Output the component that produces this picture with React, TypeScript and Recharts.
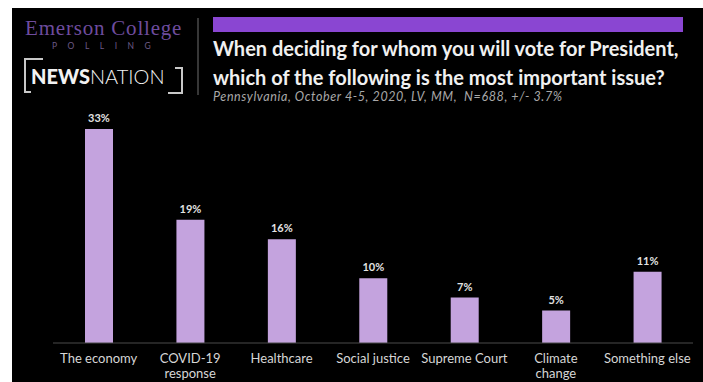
import React from "react";
import { BarChart, Bar, XAxis, YAxis, LabelList } from "recharts";

const categories = [
  "The economy",
  "COVID-19\nresponse",
  "Healthcare",
  "Social justice",
  "Supreme Court",
  "Climate\nchange",
  "Something else",
];
const shares = [33, 19, 16, 10, 7, 5, 11];

const titleLines = [
  "When deciding for whom you will vote for President,",
  "which of the following is the most important issue?",
];
const subtitle = "Pennsylvania, October 4-5, 2020, LV, MM,  N=688, +/- 3.7%";

const data = categories.map((name, i) => ({ name, value: shares[i] }));

const FONT = "Lato, 'Open Sans', sans-serif";

function CategoryTick(props: any) {
  const { x, y, payload } = props;
  const lines = String(payload.value).split("\n");
  return (
    <text
      x={x}
      y={y}
      textAnchor="middle"
      fill="#d6d6d6"
      fontSize={13}
      fontFamily={FONT}
    >
      {lines.map((line, i) => (
        <tspan key={i} x={x} dy={i === 0 ? 12 : 15}>
          {line}
        </tspan>
      ))}
    </text>
  );
}

function Header() {
  return (
    <svg
      width={703}
      height={382}
      style={{ position: "absolute", left: 0, top: 0 }}
    >
      <text
        x={25}
        y={35}
        fill="#6e4c9e"
        fontFamily="'Liberation Serif', 'DejaVu Serif', serif"
        fontSize={21}
        letterSpacing={0.8}
      >
        Emerson College
      </text>
      <text
        x={52}
        y={49}
        fill="#6d5a86"
        fontFamily={FONT}
        fontSize={8.5}
        letterSpacing={10.5}
      >
        POLLING
      </text>
      {/* NewsNation brackets */}
      <path d="M43 59 H25 V92 H31" stroke="#c8c8c8" strokeWidth={2} fill="none" />
      <path d="M175 68 H182 V93 H168" stroke="#c8c8c8" strokeWidth={2} fill="none" />
      <text x={31} y={84} fill="#f2f2f2" fontFamily={FONT} fontSize={20}>
        <tspan fontWeight={900}>NEWS</tspan>
        <tspan fontWeight={300}>NATION</tspan>
      </text>
      <line x1={198} y1={18} x2={198} y2={95} stroke="#4a4a4a" strokeWidth={1.5} />
      <rect x={213} y={17} width={470} height={15} fill="#8a46d2" />
      {titleLines.map((t, i) => (
        <text
          key={i}
          x={213}
          y={56 + i * 29}
          fill="#f0f0f0"
          fontFamily={FONT}
          fontWeight={700}
          fontSize={20}
        >
          {t}
        </text>
      ))}
      <text
        x={213}
        y={101}
        fill="#a8a8a8"
        fontFamily={FONT}
        fontStyle="italic"
        fontSize={12.5}
        letterSpacing={0.6}
        style={{ whiteSpace: "pre" }}
      >
        {subtitle}
      </text>
    </svg>
  );
}

export default function App() {
  return (
    <div
      style={{
        position: "absolute",
        left: 0,
        top: 0,
        width: 703,
        height: 382,
        background: "#ffffff",
        overflow: "hidden",
      }}
    >
      <div
        style={{
          position: "absolute",
          left: 12,
          top: 8,
          width: 691,
          height: 374,
          background: "#000000",
        }}
      />
      <Header />
      <div style={{ position: "absolute", left: 0, top: 100 }}>
        <BarChart
          width={703}
          height={282}
          data={data}
          margin={{ top: 29, right: 10, bottom: 0, left: 53 }}
        >
          <XAxis
            dataKey="name"
            height={39}
            axisLine={{ stroke: "#4a4a4a", strokeWidth: 1 }}
            tickLine={false}
            interval={0}
            tick={<CategoryTick />}
          />
          <YAxis hide domain={[0, 33]} />
          <Bar
            dataKey="value"
            fill="#c4a3de"
            barSize={28}
            isAnimationActive={false}
          >
            <LabelList
              dataKey="value"
              position="top"
              offset={7}
              formatter={(v: any) => `${v}%`}
              fill="#e2e2e2"
              fontSize={11}
              fontWeight={700}
              fontFamily={FONT}
            />
          </Bar>
        </BarChart>
      </div>
    </div>
  );
}
